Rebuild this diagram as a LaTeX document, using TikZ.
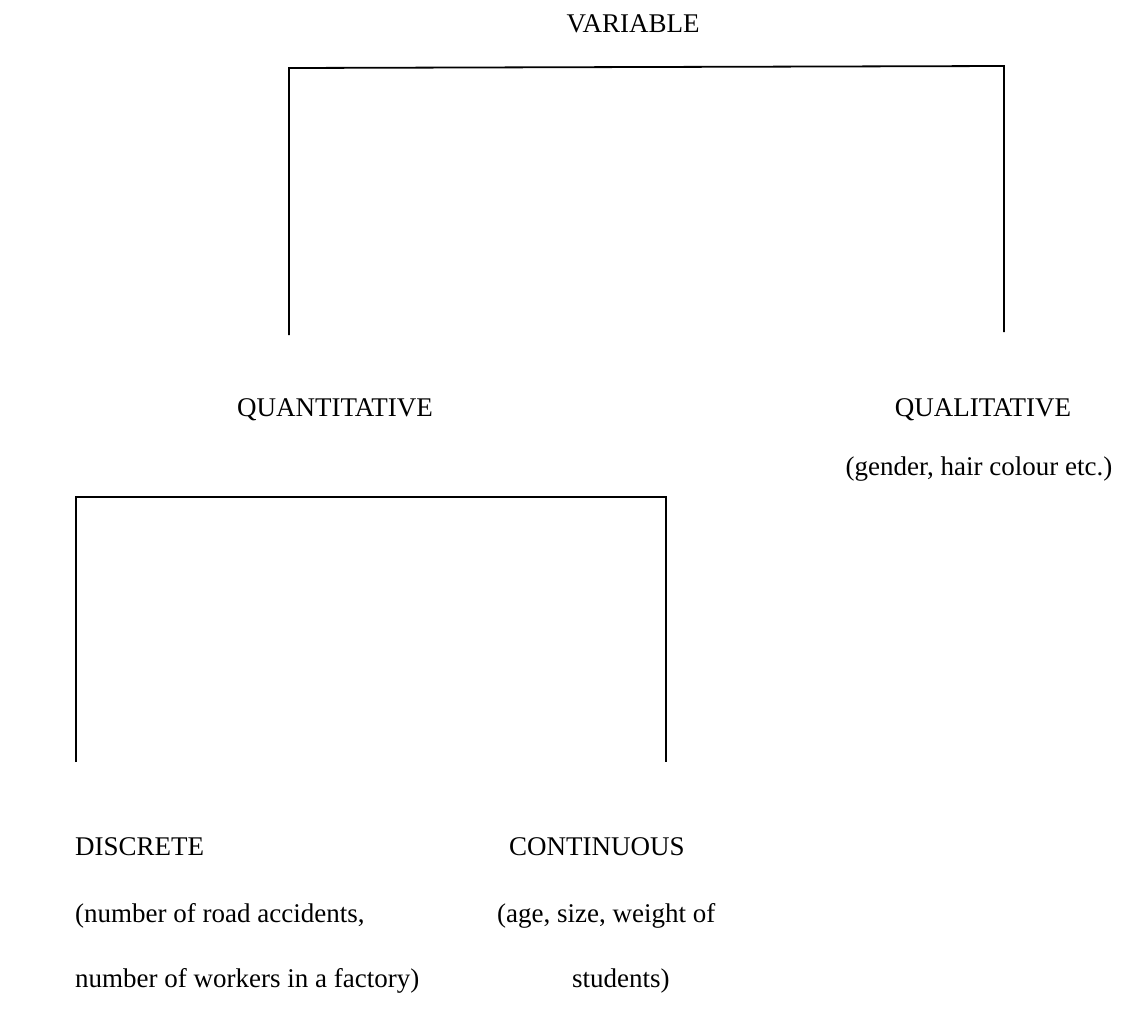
\documentclass[tikz,border=0pt]{standalone}
\usepackage{fontspec}
\setmainfont{Liberation Serif}
\begin{document}
\begin{tikzpicture}[x=1pt,y=-1pt,
  lbl/.style={font=\fontsize{27}{31}\selectfont, inner sep=0pt, anchor=base},
  lblw/.style={lbl, anchor=base west},
  bracket/.style={line width=1.8pt, line join=miter}]
\useasboundingbox (0,0) rectangle (1127,1026);
% texts
\node[lbl] (var) at (633,32) {VARIABLE};
\node[lbl] (quant) at (335,416) {QUANTITATIVE};
\node[lbl] (qual) at (983,416) {QUALITATIVE};
\node[lbl] (qualex) at (979,475) {(gender, hair colour etc.)};
\node[lblw] (disc) at (75,855) {DISCRETE};
\node[lblw] (cont) at (509,855) {CONTINUOUS};
\node[lblw] (disc1) at (75,922) {(number of road accidents,};
\node[lblw] (cont1) at (497,922) {(age, size, weight of};
\node[lblw] (disc2) at (75,987) {number of workers in a factory)};
\node[lblw] (cont2) at (572,987) {students)};
% bracket coordinates
\coordinate (a1) at (289,335);
\coordinate (a2) at (289,68);
\coordinate (a3) at (1004,66);
\coordinate (a4) at (1004,332);
\coordinate (b1) at (76,762);
\coordinate (b2) at (76,497);
\coordinate (b3) at (666,497);
\coordinate (b4) at (666,762);
\draw[bracket] (a1) -- (a2) -- (a3) -- (a4);
\draw[bracket] (b1) -- (b2) -- (b3) -- (b4);
\end{tikzpicture}
\end{document}
